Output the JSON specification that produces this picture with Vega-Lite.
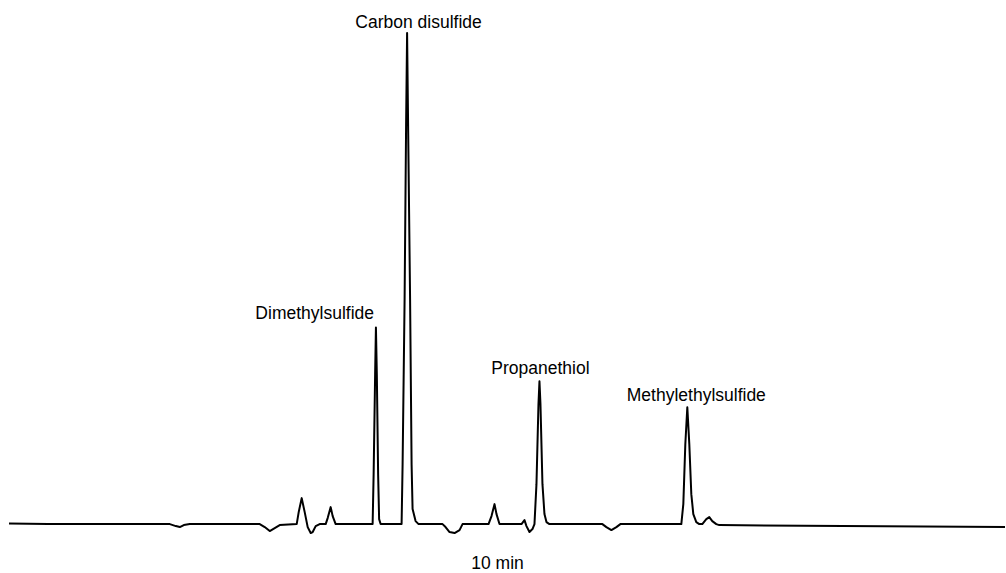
{
  "$schema": "https://vega.github.io/schema/vega-lite/v6.json",
  "width": 1006,
  "height": 573,
  "autosize": {"type": "fit", "contains": "padding"},
  "padding": 0,
  "background": "white",
  "config": {"view": {"stroke": null}},
  "datasets": {
    "trace": [
      {"t": 9, "s": 0.5}, {"t": 48, "s": 0}, {"t": 170, "s": 0}, {"t": 176, "s": -2}, {"t": 180, "s": -3}, {"t": 184, "s": -1}, {"t": 190, "s": 0},
      {"t": 260, "s": 0}, {"t": 265, "s": -3}, {"t": 270, "s": -7}, {"t": 275, "s": -4}, {"t": 280, "s": -1}, {"t": 297, "s": 0},
      {"t": 299, "s": 12}, {"t": 302, "s": 26}, {"t": 305, "s": 12}, {"t": 308, "s": -3}, {"t": 311, "s": -9}, {"t": 313, "s": -8}, {"t": 316, "s": -2}, {"t": 320, "s": 0},
      {"t": 326, "s": 0}, {"t": 328, "s": 6}, {"t": 331, "s": 17}, {"t": 333, "s": 8}, {"t": 336, "s": 0},
      {"t": 373, "s": 0}, {"t": 374, "s": 50}, {"t": 375.5, "s": 150}, {"t": 376.3, "s": 197}, {"t": 377.2, "s": 150}, {"t": 378.5, "s": 50}, {"t": 379.5, "s": 5}, {"t": 381, "s": 0},
      {"t": 402, "s": 0}, {"t": 403, "s": 60}, {"t": 405, "s": 225}, {"t": 406.5, "s": 400}, {"t": 407.5, "s": 492}, {"t": 408.5, "s": 400}, {"t": 410.5, "s": 225}, {"t": 412, "s": 60}, {"t": 413, "s": 15}, {"t": 416, "s": 3}, {"t": 419, "s": 0},
      {"t": 443, "s": 0}, {"t": 446, "s": -3}, {"t": 450, "s": -8}, {"t": 455, "s": -9}, {"t": 460, "s": -6}, {"t": 463, "s": 0},
      {"t": 489, "s": 0}, {"t": 492, "s": 8}, {"t": 495, "s": 20}, {"t": 497, "s": 10}, {"t": 500, "s": 0},
      {"t": 522, "s": 0}, {"t": 525, "s": 4}, {"t": 527, "s": -2}, {"t": 530, "s": -8}, {"t": 533, "s": -5}, {"t": 535, "s": 0},
      {"t": 537, "s": 40}, {"t": 539, "s": 120}, {"t": 540, "s": 143}, {"t": 541, "s": 120}, {"t": 543, "s": 40}, {"t": 545, "s": 10}, {"t": 547, "s": 2}, {"t": 550, "s": 0},
      {"t": 603, "s": 0}, {"t": 607, "s": -3}, {"t": 612, "s": -6}, {"t": 617, "s": -3}, {"t": 621, "s": 0},
      {"t": 682, "s": 0}, {"t": 684, "s": 20}, {"t": 686, "s": 80}, {"t": 688, "s": 117}, {"t": 690, "s": 80}, {"t": 692, "s": 30}, {"t": 694, "s": 10}, {"t": 697, "s": 2}, {"t": 700, "s": 0},
      {"t": 703, "s": 0}, {"t": 707, "s": 5}, {"t": 710, "s": 7}, {"t": 713, "s": 3}, {"t": 717, "s": 0},
      {"t": 720, "s": -1}, {"t": 1006, "s": -3}
    ],
    "labels": [
      {"t": 419, "s": 497, "label": "Carbon disulfide"},
      {"t": 315, "s": 205, "label": "Dimethylsulfide"},
      {"t": 541, "s": 150, "label": "Propanethiol"},
      {"t": 697, "s": 123, "label": "Methylethylsulfide"},
      {"t": 498, "s": -45, "label": "10 min"}
    ]
  },
  "layer": [
    {
      "data": {"name": "trace"},
      "mark": {"type": "line", "color": "black", "strokeWidth": 2, "strokeJoin": "round"},
      "encoding": {
        "x": {"field": "t", "type": "quantitative", "scale": {"domain": [0, 1006], "nice": false, "zero": false}, "axis": null},
        "y": {"field": "s", "type": "quantitative", "scale": {"domain": [-48, 525], "nice": false, "zero": false}, "axis": null},
        "order": {"field": "t", "type": "quantitative"}
      }
    },
    {
      "data": {"name": "labels"},
      "mark": {"type": "text", "font": "Liberation Sans", "fontSize": 17.5, "color": "black", "align": "center", "baseline": "alphabetic"},
      "encoding": {
        "x": {"field": "t", "type": "quantitative"},
        "y": {"field": "s", "type": "quantitative"},
        "text": {"field": "label", "type": "nominal"}
      }
    }
  ]
}
